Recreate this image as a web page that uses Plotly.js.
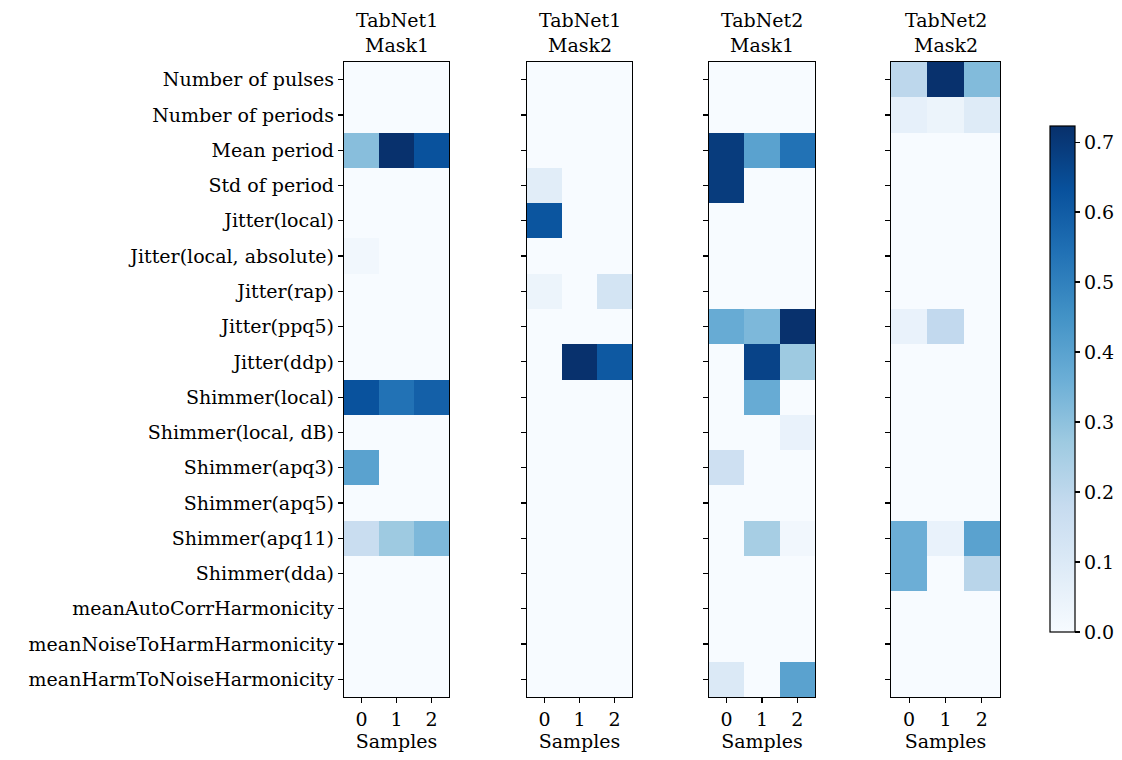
<!DOCTYPE html>
<html><head><meta charset="utf-8">
<script src="https://cdn.plot.ly/plotly-3.0.1.min.js"></script>
<style>body{margin:0;background:#fff}#c{width:1122px;height:760px}</style>
</head><body><div id="c"></div>
<script>
const features = ["Number of pulses","Number of periods","Mean period","Std of period","Jitter(local)","Jitter(local, absolute)","Jitter(rap)","Jitter(ppq5)","Jitter(ddp)","Shimmer(local)","Shimmer(local, dB)","Shimmer(apq3)","Shimmer(apq5)","Shimmer(apq11)","Shimmer(dda)","meanAutoCorrHarmonicity","meanNoiseToHarmHarmonicity","meanHarmToNoiseHarmonicity"];
const samples = [0,1,2];
const panelTitles = ["TabNet1<br>Mask1","TabNet1<br>Mask2","TabNet2<br>Mask1","TabNet2<br>Mask2"];
// rows = features, cols = samples 0,1,2
const tabnet1Mask1 = [
 [0,0,0],[0,0,0],[0.31,0.72,0.63],[0,0,0],[0,0,0],[0.02,0,0],[0,0,0],[0,0,0],[0,0,0],
 [0.63,0.54,0.59],[0,0,0],[0.40,0,0],[0,0,0],[0.17,0.27,0.33],[0,0,0],[0,0,0],[0,0,0],[0,0,0]];
const tabnet1Mask2 = [
 [0,0,0],[0,0,0],[0,0,0],[0.08,0,0],[0.62,0,0],[0,0,0],[0.04,0,0.13],[0,0,0],[0,0.72,0.61],
 [0,0,0],[0,0,0],[0,0,0],[0,0,0],[0,0,0],[0,0,0],[0,0,0],[0,0,0],[0,0,0]];
const tabnet2Mask1 = [
 [0,0,0],[0,0,0],[0.69,0.40,0.54],[0.69,0,0],[0,0,0],[0,0,0],[0,0,0],[0.37,0.33,0.72],[0,0.67,0.27],
 [0,0.37,0],[0,0,0.05],[0.15,0,0],[0,0,0],[0,0.25,0.02],[0,0,0],[0,0,0],[0,0,0],[0.10,0,0.40]];
const tabnet2Mask2 = [
 [0.20,0.72,0.32],[0.06,0.04,0.09],[0,0,0],[0,0,0],[0,0,0],[0,0,0],[0,0,0],[0.05,0.19,0],[0,0,0],
 [0,0,0],[0,0,0],[0,0,0],[0,0,0],[0.36,0.05,0.40],[0.36,0,0.21],[0,0,0],[0,0,0],[0,0,0]];
const panels = [tabnet1Mask1,tabnet1Mask2,tabnet2Mask1,tabnet2Mask2];
const colorTicks = [0,0.1,0.2,0.3,0.4,0.5,0.6,0.7];

const W=1122,H=760;
const FONT="DejaVu Serif";
const FS=19;
const blues=[[0,'#f7fbff'],[0.125,'#deebf7'],[0.25,'#c6dbef'],[0.375,'#9ecae1'],[0.5,'#6baed6'],[0.625,'#4292c6'],[0.75,'#2171b5'],[0.875,'#08519c'],[1,'#08306b']];
const xpx=[[344,449],[527,632],[709,815],[891,1000]];
const yTop=62,yBot=697;
const ydom=[1-yBot/H,1-yTop/H];
const zmax=0.723;
const data=[],layout={
 width:W,height:H,margin:{l:0,r:0,t:0,b:0},paper_bgcolor:'#fff',plot_bgcolor:'#fff',
 font:{family:FONT,size:FS,color:'#000'},showlegend:false,annotations:[]
};
panels.forEach((z,i)=>{
 const xa=i?('x'+(i+1)):'x', ya=i?('y'+(i+1)):'y';
 const tr={type:'heatmap',z:z,x:samples,y:features,xaxis:xa,yaxis:ya,colorscale:blues,zmin:0,zmax:zmax,
  showscale:i===0,xgap:0,ygap:0};
 if(i===0){tr.colorbar={x:1050/W,xanchor:'left',y:1-379/H,yanchor:'middle',len:(632-126)/H,lenmode:'fraction',
   thickness:25,thicknessmode:'pixels',outlinewidth:1.2,outlinecolor:'#000',tickvals:colorTicks,ticktext:colorTicks.map(v=>v.toFixed(1)),
   ticks:'outside',ticklen:5,tickwidth:1.2,tickcolor:'#000',tickfont:{family:FONT,size:FS},xpad:0,ypad:0};}
 data.push(tr);
 const k=i?String(i+1):'';
 layout['xaxis'+k]={domain:[xpx[i][0]/W,xpx[i][1]/W],anchor:ya,range:[-0.5,2.5],tickvals:samples,ticks:'outside',ticklen:5,tickwidth:1.2,tickcolor:'#000',
  showline:true,linecolor:'#000',linewidth:1.2,mirror:true,showgrid:false,zeroline:false,
  title:{text:'Samples',font:{family:FONT,size:FS},standoff:4},tickfont:{family:FONT,size:FS}};
 layout['yaxis'+k]={domain:ydom,anchor:xa,type:'category',autorange:'reversed',ticks:'outside',ticklen:5,tickwidth:1.2,tickcolor:'#000',
  showline:true,linecolor:'#000',linewidth:1.2,mirror:true,showgrid:false,zeroline:false,showticklabels:i===0,
  tickfont:{family:FONT,size:FS}};
 layout.annotations.push({text:panelTitles[i],xref:'paper',yref:'paper',x:(xpx[i][0]+xpx[i][1])/2/W,y:1-(yTop-4)/H,
  xanchor:'center',yanchor:'bottom',showarrow:false,font:{family:FONT,size:FS}});
});
Plotly.newPlot('c',data,layout,{displayModeBar:false,staticPlot:true});
</script></body></html>
